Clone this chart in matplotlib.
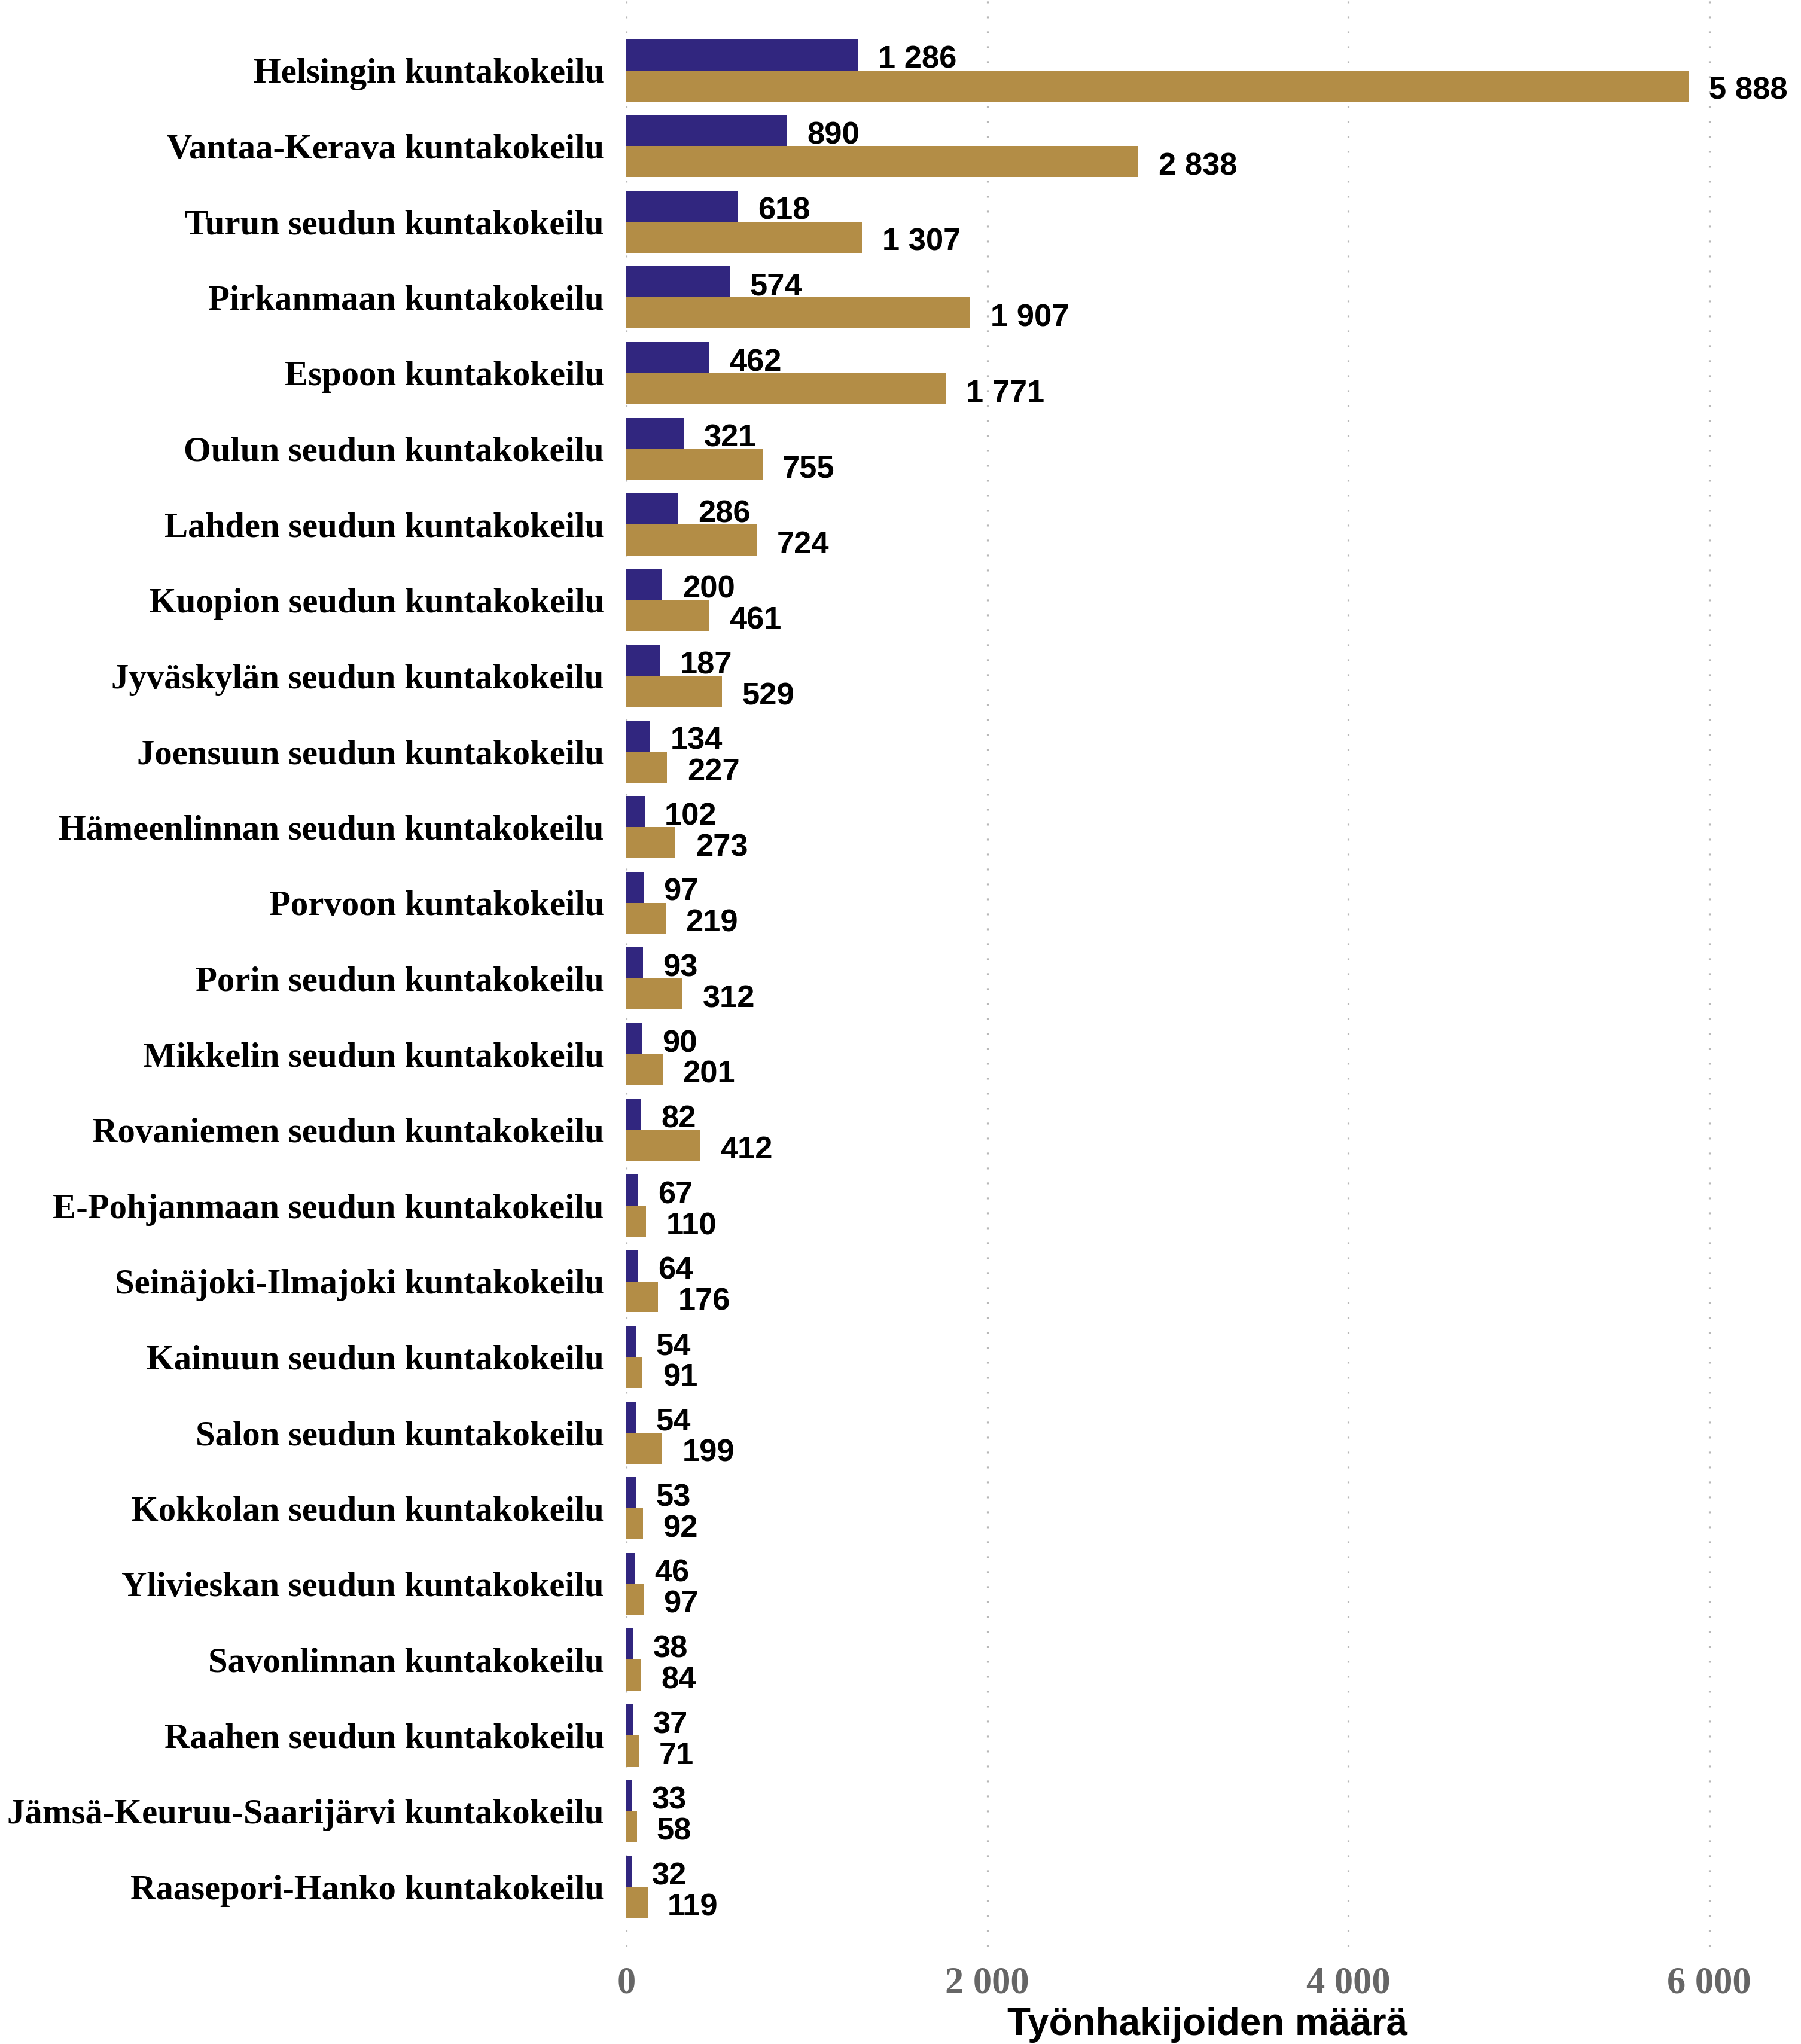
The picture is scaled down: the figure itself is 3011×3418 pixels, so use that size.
import matplotlib
matplotlib.use("Agg")
import matplotlib.pyplot as plt
import numpy as np

categories = [
    "Helsingin kuntakokeilu", "Vantaa-Kerava kuntakokeilu", "Turun seudun kuntakokeilu",
    "Pirkanmaan kuntakokeilu", "Espoon kuntakokeilu", "Oulun seudun kuntakokeilu",
    "Lahden seudun kuntakokeilu", "Kuopion seudun kuntakokeilu", "Jyväskylän seudun kuntakokeilu",
    "Joensuun seudun kuntakokeilu", "Hämeenlinnan seudun kuntakokeilu", "Porvoon kuntakokeilu",
    "Porin seudun kuntakokeilu", "Mikkelin seudun kuntakokeilu", "Rovaniemen seudun kuntakokeilu",
    "E-Pohjanmaan seudun kuntakokeilu", "Seinäjoki-Ilmajoki kuntakokeilu", "Kainuun seudun kuntakokeilu",
    "Salon seudun kuntakokeilu", "Kokkolan seudun kuntakokeilu", "Ylivieskan seudun kuntakokeilu",
    "Savonlinnan kuntakokeilu", "Raahen seudun kuntakokeilu", "Jämsä-Keuruu-Saarijärvi kuntakokeilu",
    "Raasepori-Hanko kuntakokeilu",
]
series_a = [1286, 890, 618, 574, 462, 321, 286, 200, 187, 134, 102, 97, 93, 90, 82, 67, 64, 54, 54, 53, 46, 38, 37, 33, 32]
series_b = [5888, 2838, 1307, 1907, 1771, 755, 724, 461, 529, 227, 273, 219, 312, 201, 412, 110, 176, 91, 199, 92, 97, 84, 71, 58, 119]
x_ticks = [0, 2000, 4000, 6000]
x_label = "Työnhakijoiden määrä"

color_a = "#31267F"
color_b = "#B38D46"

def fmt(v):
    return f"{v:,}".replace(",", " ")

W, H = 3011, 3418
fig = plt.figure(figsize=(W / 300, H / 300), dpi=300)
ax_left, ax_right, ax_bottom = 1047, 2990, 3255
ax = fig.add_axes([ax_left / W, 1 - ax_bottom / H, (ax_right - ax_left) / W, ax_bottom / H])

y = np.arange(len(categories))
h = 0.41
ax.barh(y - h / 2, series_a, height=h, color=color_a, zorder=2)
ax.barh(y + h / 2, series_b, height=h, color=color_b, zorder=2)

for yi, v in zip(y, series_a):
    ax.annotate(fmt(v), (v, yi - h / 2), xytext=(8.0, -5.3), textcoords="offset points",
                ha="left", va="baseline", fontsize=12.6, fontweight="bold",
                family="Liberation Sans", color="black")
for yi, v in zip(y, series_b):
    ax.annotate(fmt(v), (v, yi + h / 2), xytext=(8.0, -5.3), textcoords="offset points",
                ha="left", va="baseline", fontsize=12.6, fontweight="bold",
                family="Liberation Sans", color="black")

ax.set_ylim(len(categories) - 1 + 0.79, -0.93)
ax.set_xlim(0, 6439)
ax.set_yticks(y)
ax.set_yticklabels(categories, family="Liberation Serif", fontweight="bold", fontsize=14.1, color="black")
ax.set_xticks(x_ticks)
ax.set_xticklabels([fmt(t) for t in x_ticks], family="Liberation Serif", fontweight="bold",
                   fontsize=15, color="#666666")
ax.tick_params(axis="both", length=0)
ax.tick_params(axis="y", pad=8.9)
ax.tick_params(axis="x", pad=8.0)
for s in ax.spines.values():
    s.set_visible(False)
ax.xaxis.grid(True, color="#B8B8B8", linewidth=0.75, linestyle=(0, (1.0, 7.0)), zorder=0)
ax.yaxis.grid(False)
ax.set_axisbelow(True)

fig.text((ax_left + ax_right) / 2 / W, 1 - 3403 / H, x_label, ha="center", va="baseline",
         family="Liberation Sans", fontweight="bold", fontsize=15.3)

fig.savefig("out.png", dpi=300)
